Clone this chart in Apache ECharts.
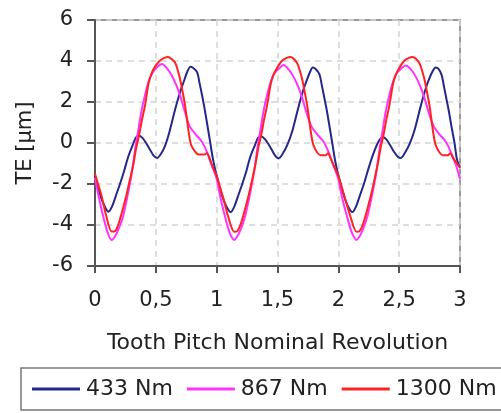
<!DOCTYPE html>
<html>
<head>
<meta charset="utf-8">
<script src="https://cdn.jsdelivr.net/npm/echarts@6/dist/echarts.min.js"></script>
<style>html,body{margin:0;padding:0;background:#fff;}#c{width:501px;height:413px;}</style>
</head>
<body>
<div id="c"></div>
<script>
var seriesNames = ['433 Nm', '867 Nm', '1300 Nm'];
var xTicks = [0, 0.5, 1, 1.5, 2, 2.5, 3];
var yTicks = [-6, -4, -2, 0, 2, 4, 6];

var te433 = [
[0,-1.6],[0.04,-2.5],[0.08,-3.1],[0.11,-3.35],[0.14,-3.1],[0.17,-2.6],[0.205,-2.0],[0.24,-1.35],[0.27,-0.73],[0.31,-0.1],[0.335,0.25],[0.36,0.36],[0.39,0.25],[0.42,0.0],[0.45,-0.3],[0.48,-0.6],[0.51,-0.73],[0.54,-0.55],[0.575,-0.15],[0.61,0.5],[0.66,1.67],[0.70,2.5],[0.73,3.0],[0.76,3.5],[0.785,3.72],[0.81,3.65],[0.84,3.45],[0.86,2.9],[0.88,2.33],[0.90,1.7],[0.92,1.0],[0.945,0.1],[0.97,-0.8],
[1.0,-1.6],[1.04,-2.5],[1.08,-3.1],[1.115,-3.37],[1.145,-3.1],[1.175,-2.6],[1.21,-2.0],[1.245,-1.35],[1.275,-0.7],[1.315,-0.1],[1.34,0.25],[1.365,0.33],[1.395,0.2],[1.425,-0.05],[1.455,-0.35],[1.485,-0.65],[1.51,-0.75],[1.54,-0.55],[1.58,-0.1],[1.62,0.55],[1.67,1.7],[1.71,2.55],[1.74,3.05],[1.77,3.5],[1.79,3.68],[1.815,3.6],[1.845,3.35],[1.865,2.8],[1.885,2.2],[1.905,1.6],[1.925,0.9],[1.95,0.0],[1.975,-0.9],
[2.005,-1.7],[2.045,-2.55],[2.08,-3.1],[2.115,-3.37],[2.145,-3.1],[2.175,-2.6],[2.21,-2.0],[2.245,-1.3],[2.28,-0.65],[2.32,-0.05],[2.345,0.2],[2.365,0.28],[2.395,0.18],[2.425,-0.1],[2.46,-0.45],[2.49,-0.68],[2.515,-0.73],[2.545,-0.5],[2.585,-0.05],[2.625,0.6],[2.675,1.75],[2.715,2.6],[2.745,3.1],[2.775,3.5],[2.80,3.68],[2.825,3.6],[2.85,3.3],[2.87,2.7],[2.89,2.1],[2.91,1.5],[2.93,0.8],[2.955,0.0],[2.975,-0.8],[3.0,-1.2]
];

var te867 = [
[0,-1.7],[0.03,-2.6],[0.06,-3.4],[0.10,-4.3],[0.137,-4.73],[0.17,-4.5],[0.20,-4.1],[0.23,-3.6],[0.26,-2.8],[0.30,-1.55],[0.33,-0.3],[0.355,0.6],[0.38,1.5],[0.41,2.3],[0.44,3.0],[0.47,3.4],[0.51,3.7],[0.55,3.85],[0.59,3.65],[0.63,3.3],[0.67,2.8],[0.70,2.3],[0.74,1.5],[0.78,0.8],[0.83,0.4],[0.88,0.05],[0.92,-0.45],[0.96,-1.1],
[1.0,-1.75],[1.03,-2.65],[1.065,-3.5],[1.105,-4.35],[1.145,-4.73],[1.175,-4.5],[1.205,-4.1],[1.235,-3.55],[1.265,-2.75],[1.305,-1.5],[1.335,-0.25],[1.36,0.65],[1.385,1.55],[1.415,2.35],[1.445,3.0],[1.475,3.4],[1.515,3.65],[1.55,3.8],[1.59,3.6],[1.63,3.25],[1.67,2.75],[1.70,2.25],[1.74,1.45],[1.78,0.8],[1.83,0.4],[1.88,0.05],[1.92,-0.45],[1.96,-1.1],
[2.0,-1.75],[2.03,-2.65],[2.07,-3.55],[2.11,-4.35],[2.15,-4.73],[2.18,-4.5],[2.21,-4.1],[2.24,-3.55],[2.27,-2.75],[2.31,-1.5],[2.34,-0.25],[2.365,0.65],[2.39,1.55],[2.42,2.35],[2.45,3.0],[2.48,3.4],[2.52,3.65],[2.555,3.78],[2.595,3.6],[2.635,3.25],[2.675,2.75],[2.705,2.25],[2.745,1.45],[2.785,0.8],[2.835,0.4],[2.885,0.05],[2.925,-0.45],[2.965,-1.05],[3.0,-1.75]
];

var te1300 = [
[0,-1.5],[0.03,-2.1],[0.055,-2.6],[0.09,-3.5],[0.137,-4.32],[0.165,-4.3],[0.19,-4.0],[0.225,-3.3],[0.26,-2.5],[0.29,-1.7],[0.315,-1.05],[0.34,-0.2],[0.36,0.3],[0.385,1.1],[0.41,1.8],[0.44,2.9],[0.46,3.3],[0.48,3.6],[0.53,4.0],[0.57,4.15],[0.60,4.2],[0.63,4.1],[0.66,3.9],[0.68,3.55],[0.70,3.1],[0.72,2.5],[0.74,1.84],[0.77,0.53],[0.79,-0.1],[0.82,-0.4],[0.85,-0.56],[0.90,-0.56],[0.92,-0.5],[0.945,-0.8],[0.97,-1.2],
[1.0,-1.6],[1.03,-2.2],[1.06,-2.8],[1.095,-3.6],[1.145,-4.33],[1.17,-4.3],[1.195,-4.0],[1.23,-3.3],[1.265,-2.5],[1.295,-1.7],[1.32,-1.0],[1.345,-0.15],[1.365,0.35],[1.39,1.15],[1.415,1.85],[1.445,2.9],[1.465,3.3],[1.49,3.6],[1.535,4.0],[1.575,4.15],[1.605,4.2],[1.635,4.1],[1.665,3.85],[1.685,3.5],[1.705,3.05],[1.725,2.45],[1.745,1.8],[1.775,0.5],[1.795,-0.1],[1.825,-0.45],[1.855,-0.6],[1.895,-0.6],[1.915,-0.5],[1.94,-0.8],[1.97,-1.2],
[2.0,-1.6],[2.03,-2.2],[2.06,-2.8],[2.10,-3.6],[2.15,-4.33],[2.175,-4.3],[2.2,-4.0],[2.235,-3.3],[2.27,-2.5],[2.30,-1.7],[2.325,-1.0],[2.35,-0.15],[2.37,0.35],[2.395,1.15],[2.42,1.85],[2.45,2.9],[2.47,3.3],[2.495,3.6],[2.54,4.0],[2.58,4.15],[2.61,4.2],[2.64,4.1],[2.67,3.85],[2.69,3.5],[2.71,3.05],[2.73,2.45],[2.75,1.8],[2.78,0.5],[2.80,-0.1],[2.83,-0.45],[2.86,-0.6],[2.90,-0.6],[2.92,-0.5],[2.945,-0.75],[2.975,-1.0],[3.0,-1.2]
];

var colors = ['#24278c', '#ff33ff', '#ff2222'];
var font = 'DejaVu Sans';
var chart = echarts.init(document.getElementById('c'), null, {renderer: 'canvas'});
function mk(name, data, color) {
  return {
    name: name, type: 'line', data: data, smooth: 0.3, showSymbol: false, symbol: 'none',
    lineStyle: {color: color, width: 2}, itemStyle: {color: color}, animation: false
  };
}
chart.setOption({
  animation: false,
  textStyle: {fontFamily: font, color: '#222'},
  grid: {left: 95, right: 41, top: 20, bottom: 147, show: true, borderColor: '#9a9a9a', borderWidth: 2, backgroundColor: '#fff'},
  xAxis: {
    type: 'value', min: xTicks[0], max: xTicks[xTicks.length - 1], interval: 0.5,
    name: 'Tooth Pitch Nominal Revolution', nameLocation: 'middle', nameGap: 66,
    nameTextStyle: {fontSize: 22, color: '#222', fontFamily: font},
    axisLine: {show: true, onZero: false, lineStyle: {color: '#555', width: 2}},
    axisTick: {show: true, inside: false, length: 7, lineStyle: {color: '#555', width: 2}},
    axisLabel: {fontSize: 21, color: '#222', margin: 24, fontFamily: font,
      formatter: function (v) { return String(v).replace('.', ','); }},
    splitLine: {show: true, lineStyle: {color: '#d4d4d4', type: [6, 5], width: 1.5}}
  },
  yAxis: {
    type: 'value', min: yTicks[0], max: yTicks[yTicks.length - 1], interval: 2,
    name: 'TE [µm]', nameLocation: 'middle', nameGap: 59,
    nameTextStyle: {fontSize: 21, color: '#222', fontFamily: font},
    axisLine: {show: true, onZero: false, lineStyle: {color: '#555', width: 2}},
    axisTick: {show: true, inside: false, length: 8, lineStyle: {color: '#555', width: 2}},
    axisLabel: {fontSize: 21, color: '#222', margin: 22, fontFamily: font},
    splitLine: {show: true, lineStyle: {color: '#d4d4d4', type: [6, 5], width: 1.5}}
  },
  legend: {
    data: seriesNames, left: 21, top: 368, width: 700, orient: 'horizontal',
    icon: 'rect', itemWidth: 48, itemHeight: 3, itemGap: 14,
    padding: [10, 11], borderColor: '#777', borderWidth: 1.5,
    textStyle: {fontSize: 22, color: '#222', fontFamily: font, padding: [0, 0, 0, 1]}
  },
  series: [
    mk(seriesNames[0], te433, colors[0]),
    mk(seriesNames[1], te867, colors[1]),
    mk(seriesNames[2], te1300, colors[2])
  ]
});
</script>
</body>
</html>
